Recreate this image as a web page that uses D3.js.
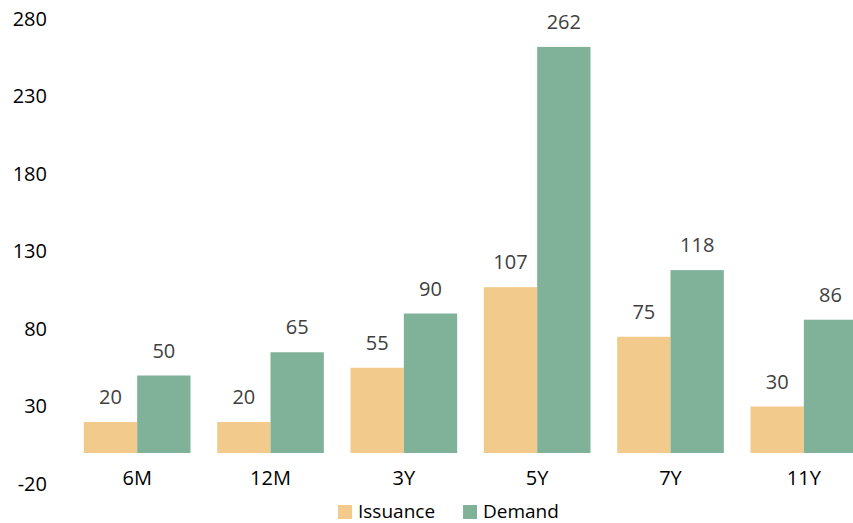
<!DOCTYPE html>
<html>
<head>
<meta charset="utf-8">
<script src="https://cdn.jsdelivr.net/npm/d3@7"></script>
<style>
  body { margin: 0; background: #fff; }
  svg { display: block; font-family: "Open Sans", sans-serif; }
</style>
</head>
<body>
<div id="chart"></div>
<script>
// data
let tenors = ['6M', '12M', '3Y', '5Y', '7Y', '11Y'];
let issuance = [20, 20, 55, 107, 75, 30];
let demand = [50, 65, 90, 262, 118, 86];
let yTicks = [-20, 30, 80, 130, 180, 230, 280];

let seriesNames = ['Issuance', 'Demand'];
let colors = { Issuance: '#F2CB8C', Demand: '#80B29A' };

let width = 853, height = 523;

let svg = d3.select('#chart').append('svg')
  .attr('width', width)
  .attr('height', height);

let xScale = d3.scaleBand()
  .domain(tenors)
  .range([70.5, 870.5])
  .paddingInner(0.2)
  .paddingOuter(0.1);

let xInner = d3.scaleBand()
  .domain(seriesNames)
  .range([0, xScale.bandwidth()]);

let yScale = d3.scaleLinear()
  .domain([-20, 280])
  .range([484, 19]);

// y tick labels, no axis line (plain hyphen for negatives, like the reference)
let yAxis = d3.axisLeft(yScale)
  .tickValues(yTicks)
  .tickFormat(d => String(d))
  .tickSize(0)
  .tickPadding(0);
svg.append('g')
  .attr('class', 'y-axis')
  .attr('transform', 'translate(47, 0)')
  .call(yAxis)
  .call(g => g.select('.domain').remove())
  .selectAll('text')
  .attr('font-size', 20)
  .attr('font-family', '"Open Sans", sans-serif')
  .attr('fill', '#000');

// bars
let rows = tenors.map((t, i) => ({ tenor: t, values: [
  { key: 'Issuance', value: issuance[i] },
  { key: 'Demand', value: demand[i] }
]}));

let groups = svg.append('g').attr('class', 'bars')
  .selectAll('g')
  .data(rows)
  .join('g')
  .attr('transform', d => `translate(${xScale(d.tenor)}, 0)`);

groups.selectAll('rect')
  .data(d => d.values)
  .join('rect')
  .attr('x', d => xInner(d.key))
  .attr('width', xInner.bandwidth())
  .attr('y', d => yScale(d.value))
  .attr('height', d => yScale(0) - yScale(d.value))
  .attr('fill', d => colors[d.key]);

// value labels
groups.selectAll('text')
  .data(d => d.values)
  .join('text')
  .attr('x', d => xInner(d.key) + xInner.bandwidth() / 2)
  .attr('y', d => yScale(d.value) - 18)
  .attr('text-anchor', 'middle')
  .attr('font-size', 20)
  .attr('fill', '#404040')
  .text(d => d.value);

// category labels
let xAxis = d3.axisBottom(xScale).tickSize(0).tickPadding(0);
svg.append('g')
  .attr('class', 'x-axis')
  .attr('transform', 'translate(0, 471)')
  .call(xAxis)
  .call(g => g.select('.domain').remove())
  .selectAll('text')
  .attr('font-size', 20)
  .attr('font-family', '"Open Sans", sans-serif')
  .attr('fill', '#000');

// legend
let legend = svg.append('g').attr('class', 'legend');
let legendX = [338, 463];
seriesNames.forEach((name, i) => {
  let lg = legend.append('g').attr('transform', `translate(${legendX[i]}, 505)`);
  lg.append('rect')
    .attr('width', 14).attr('height', 14)
    .attr('fill', colors[name]);
  lg.append('text')
    .attr('x', 20).attr('y', 12.5)
    .attr('font-size', 19)
    .attr('fill', '#000')
    .text(name);
});
</script>
</body>
</html>
